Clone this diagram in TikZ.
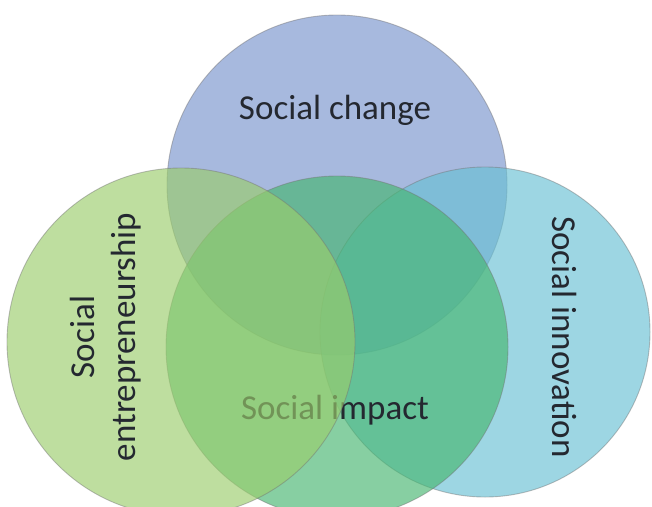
\documentclass[tikz,border=0pt]{standalone}
\usepackage{fontspec}
\setmainfont{Carlito}
\definecolor{changeblue}{RGB}{120,147,204}
\definecolor{entregreen}{RGB}{155,205,108}
\definecolor{impactgreen}{RGB}{70,182,112}
\definecolor{innovteal}{RGB}{104,192,212}
\definecolor{labeltext}{RGB}{36,40,48}
\begin{document}
\begin{tikzpicture}[x=1pt, y=-1pt,
    venn/.style={
        circle,
        draw=black!55,
        draw opacity=0.45,
        line width=0.9pt,
        fill opacity=0.65,
        minimum size=#1,
        inner sep=0pt
    },
    caption/.style={
        text=labeltext,
        font=\fontsize{35}{41}\selectfont,
        align=center,
        inner sep=0pt
    },
]
    \useasboundingbox (0,0) rectangle (652,506);
    \clip (0,0) rectangle (652,506);
    % circles, back to front
    \node (change) [venn=340pt, fill=changeblue] at (337,185) {};
    \node (innovation) [venn=330pt, fill=innovteal] at (485,332) {};
    \node (impact) [venn=342pt, fill=impactgreen] at (337,347) {};
    \node (impactlabel) [caption] at (335,410) {Social impact};
    \node (entre) [venn=348pt, fill=entregreen] at (181,342) {};
    % labels
    \node (changelabel) [caption] at (335,110) {Social change};
    \node (entrelabel) [caption, rotate=90] at (106,337) {Social\\entrepreneurship};
    \node (innovlabel) [caption, rotate=-90] at (565,337) {Social innovation};
\end{tikzpicture}
\end{document}
